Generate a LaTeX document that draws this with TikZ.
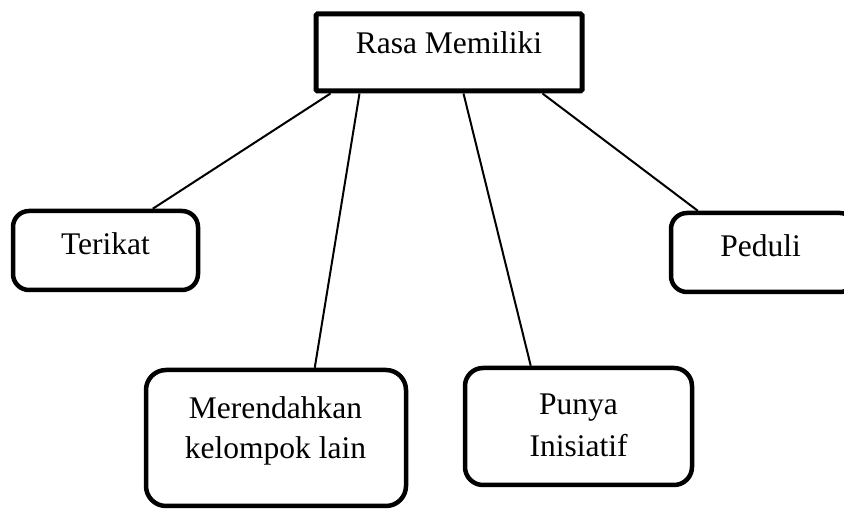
\documentclass[tikz,border=0pt]{standalone}
\usepackage{fontspec}
\setmainfont{Liberation Serif}
\begin{document}
\begin{tikzpicture}[x=1pt,y=-1pt,
  box/.style={draw=black,line width=4.5pt,rounded corners=16pt,inner sep=0pt,
    minimum width=#1},
  headbox/.style={draw=black,line width=5pt,rounded corners=1.5pt,inner sep=0pt},
  txt/.style={inner sep=0pt,anchor=base,font=\fontsize{31.5}{40}\selectfont},
  link/.style={draw=black,line width=2pt}]
\useasboundingbox (0,0) rectangle (844,510);
\clip (0,0) rectangle (844,510);

% boxes
\node[headbox,minimum width=266pt,minimum height=77pt] (rasa) at (449,52.5) {};
\node[box=185pt,minimum height=79pt] (terikat) at (105.5,250.5) {};
\node[box=185pt,minimum height=79pt] (peduli) at (763.5,252.5) {};
\node[box=260pt,minimum height=136pt,rounded corners=20pt] (rendah) at (276,438) {};
\node[box=227pt,minimum height=117pt,rounded corners=18pt] (punya) at (578.5,426.5) {};

% labels
\node[txt] (tRasa) at (449,54) {Rasa Memiliki};
\node[txt] (tTerikat) at (105.5,255) {Terikat};
\node[txt] (tPeduli) at (760.5,257) {Peduli};
\node[txt] (tRendahA) at (275.5,419) {Merendahkan};
\node[txt] (tRendahB) at (275.5,459) {kelompok lain};
\node[txt] (tPunyaA) at (578.5,415) {Punya};
\node[txt] (tPunyaB) at (578.5,457) {Inisiatif};

% connectors
\draw[link] ([xshift=17pt]rasa.south west) -- ([xshift=142pt]terikat.north west);
\draw[link] ([xshift=46pt]rasa.south west) -- ([xshift=171pt]rendah.north west);
\draw[link] ([xshift=150pt]rasa.south west) -- ([xshift=68pt]punya.north west);
\draw[link] ([xshift=229pt]rasa.south west) -- ([xshift=29pt]peduli.north west);
\end{tikzpicture}
\end{document}
